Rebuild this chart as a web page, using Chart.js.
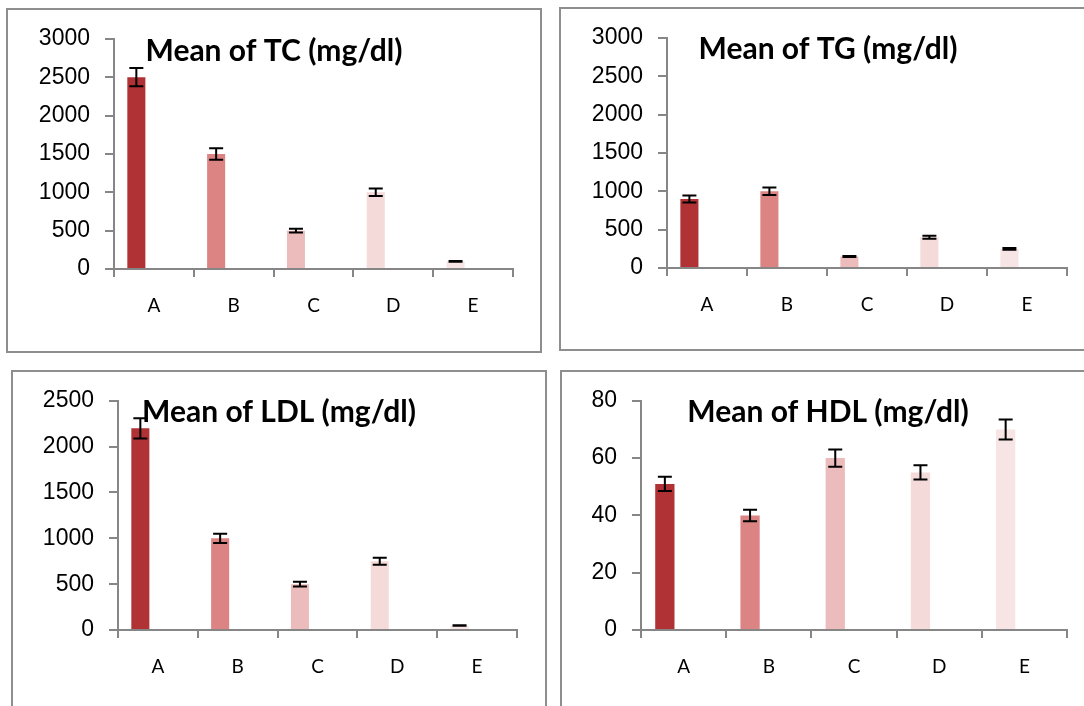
<!DOCTYPE html>
<html>
<head>
<meta charset="utf-8">
<script src="https://cdn.jsdelivr.net/npm/chart.js@4.4.0/dist/chart.umd.min.js"></script>
<style>
  html, body { margin: 0; padding: 0; background: #fff; }
  body { width: 1084px; height: 706px; position: relative; overflow: hidden; }
  .panel { position: absolute; border: 2px solid #8e8e8e; box-sizing: border-box; }
  .box { position: absolute; }
</style>
</head>
<body>
<div class="panel" style="left:6px;top:8px;width:536px;height:345px;"></div>
<div class="panel" style="left:559px;top:7px;width:540px;height:344px;"></div>
<div class="panel" style="left:11px;top:370px;width:536px;height:350px;"></div>
<div class="panel" style="left:560px;top:370px;width:540px;height:350px;"></div>

<div class="box" style="left:8px;top:10px;width:532px;height:341px;"><canvas id="tcChart"></canvas></div>
<div class="box" style="left:561px;top:9px;width:523px;height:340px;"><canvas id="tgChart"></canvas></div>
<div class="box" style="left:13px;top:372px;width:532px;height:334px;"><canvas id="ldlChart"></canvas></div>
<div class="box" style="left:562px;top:372px;width:522px;height:334px;"><canvas id="hdlChart"></canvas></div>

<script>
// Data
var groups = ['A', 'B', 'C', 'D', 'E'];
var barColors = ['#B03234', '#DC8483', '#ECBCBC', '#F5DADA', '#F7E5E5'];

var tcMeans = [2500, 1500, 500, 1000, 100];
var tcErrors = [120, 75, 25, 50, 5];

var tgMeans = [900, 1000, 150, 400, 250];
var tgErrors = [45, 50, 8, 20, 12];

var ldlMeans = [2200, 1000, 500, 750, 50];
var ldlErrors = [110, 50, 25, 37, 3];

var hdlMeans = [51, 40, 60, 55, 70];
var hdlErrors = [2.5, 2, 3, 2.5, 3.5];

var axisGrey = '#868686';

// error bars, drawn from the y scale
var errorBars = {
    id: 'errorBars',
    afterDatasetsDraw: function (chart, args, opts) {
        var ctx = chart.ctx;
        var yScale = chart.scales.y;
        var meta = chart.getDatasetMeta(0);
        ctx.save();
        ctx.strokeStyle = '#000';
        ctx.lineWidth = 2;
        meta.data.forEach(function (bar, i) {
            var v = chart.data.datasets[0].data[i];
            var e = opts.errors[i];
            var top = yScale.getPixelForValue(v + e);
            var bottom = yScale.getPixelForValue(v - e);
            ctx.beginPath();
            ctx.moveTo(bar.x, top);
            ctx.lineTo(bar.x, bottom);
            ctx.moveTo(bar.x - 7, top);
            ctx.lineTo(bar.x + 7, top);
            ctx.moveTo(bar.x - 7, bottom);
            ctx.lineTo(bar.x + 7, bottom);
            ctx.stroke();
        });
        ctx.restore();
    }
};

// title drawn over the plot area
var overTitle = {
    id: 'overTitle',
    afterDraw: function (chart, args, opts) {
        var ctx = chart.ctx;
        ctx.save();
        ctx.font = 'bold 30px Lato';
        ctx.fillStyle = '#000';
        ctx.textAlign = 'center';
        ctx.textBaseline = 'alphabetic';
        ctx.fillText(opts.text, opts.x, opts.y);
        ctx.restore();
    }
};

function makeChart(id, means, errors, title, yMax, yStep, box) {
    var ctx = document.getElementById(id).getContext('2d');
    return new Chart(ctx, {
        type: 'bar',
        data: {
            labels: groups,
            datasets: [
                {
                    data: means,
                    backgroundColor: barColors,
                    barPercentage: 0.514,
                    categoryPercentage: 0.88
                },
                {
                    data: [null, null, null, null, null],
                    barPercentage: 0.514,
                    categoryPercentage: 0.88
                }
            ]
        },
        options: {
            responsive: true,
            maintainAspectRatio: false,
            animation: false,
            layout: {
                padding: { left: 0, top: box.padTop, right: box.padRight, bottom: 0 }
            },
            plugins: {
                legend: { display: false },
                tooltip: { enabled: false },
                errorBars: { errors: errors },
                overTitle: { text: title, x: box.titleX, y: box.titleY }
            },
            scales: {
                x: {
                    grid: { drawOnChartArea: false, tickLength: 8, color: axisGrey, lineWidth: 2 },
                    border: { color: axisGrey, width: 2 },
                    ticks: { color: '#000', font: { family: 'Lato', size: 19 }, padding: box.xPad },
                    afterFit: function (s) { s.height = box.xHeight; }
                },
                y: {
                    min: 0,
                    max: yMax,
                    ticks: {
                        stepSize: yStep,
                        color: '#000',
                        font: { family: 'Liberation Sans', size: 23 },
                        padding: 15,
                        callback: function (v) { return String(v); }
                    },
                    grid: { drawOnChartArea: false, tickLength: 9, color: axisGrey, lineWidth: 2 },
                    border: { color: axisGrey, width: 2 },
                    afterFit: function (s) { s.width = box.yWidth; }
                }
            }
        },
        plugins: [errorBars, overTitle]
    });
}

makeChart('tcChart', tcMeans, tcErrors, 'Mean of TC (mg/dl)', 3000, 500,
    { yWidth: 106, padTop: 28, padRight: 27, xHeight: 82, xPad: 17, titleX: 266, titleY: 51 });
makeChart('tgChart', tgMeans, tgErrors, 'Mean of TG (mg/dl)', 3000, 500,
    { yWidth: 106, padTop: 28, padRight: 17, xHeight: 81, xPad: 17, titleX: 267, titleY: 50 });
makeChart('ldlChart', ldlMeans, ldlErrors, 'Mean of LDL (mg/dl)', 2500, 500,
    { yWidth: 105, padTop: 28, padRight: 28, xHeight: 76, xPad: 17, titleX: 266, titleY: 50 });
makeChart('hdlChart', hdlMeans, hdlErrors, 'Mean of HDL (mg/dl)', 80, 20,
    { yWidth: 79, padTop: 27, padRight: 17, xHeight: 76, xPad: 17, titleX: 266, titleY: 50 });
</script>
</body>
</html>
